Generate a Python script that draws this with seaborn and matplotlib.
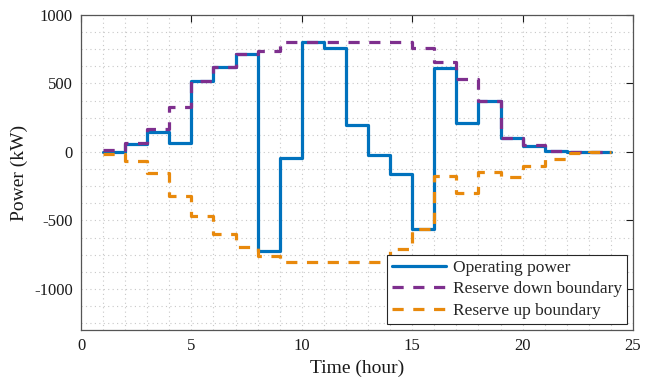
import matplotlib
matplotlib.use("Agg")
import matplotlib.pyplot as plt
from matplotlib.ticker import MultipleLocator
import seaborn as sns
import pandas as pd

# ---- data ----
hours = list(range(1, 25))
operating_power = [0, 60, 145, 65, 520, 622, 715, -722, -45, 800, 761, 200,
                   -20, -163, -561, 612, 212, 369, 103, 44, 8, 0, 0, 0]
reserve_down = [17, 65, 168, 325, 520, 622, 715, 737, 800, 800, 800, 800,
                800, 800, 761, 656, 534, 369, 103, 49, 10, 0, 0, 0]
reserve_up = [-12, -66, -153, -319, -470, -602, -692, -758, -800, -800, -800, -800,
              -800, -707, -561, -175, -300, -148, -183, -105, -49, -5, 0, 0]
series_names = ["Operating power", "Reserve down boundary", "Reserve up boundary"]
series_colors = ["#0072BD", "#7E2F8E", "#E8890C"]
x_ticks = [0, 5, 10, 15, 20, 25]
y_ticks = [-1000, -500, 0, 500, 1000]

sns.set_style("white")
plt.rcParams["font.family"] = ["Liberation Serif", "DejaVu Serif"]
plt.rcParams["axes.unicode_minus"] = False

fig = plt.figure(figsize=(6.45, 3.83), dpi=100)
ax = fig.add_axes([0.1256, 0.1384, 0.8558, 0.8224])

df = pd.DataFrame({"hour": hours, "op": operating_power,
                   "down": reserve_down, "up": reserve_up})

dash = (0, (3.5, 3.0))
sns.lineplot(data=df, x="hour", y="op", ax=ax, color=series_colors[0],
             linewidth=2.3, drawstyle="steps-post", label=series_names[0],
             zorder=3)
sns.lineplot(data=df, x="hour", y="down", ax=ax, color=series_colors[1],
             linewidth=2.3, drawstyle="steps-post", linestyle=dash,
             label=series_names[1], zorder=4)
sns.lineplot(data=df, x="hour", y="up", ax=ax, color=series_colors[2],
             linewidth=2.3, drawstyle="steps-post", linestyle=dash,
             label=series_names[2], zorder=5)

ax.set_xlim(0, 25)
ax.set_ylim(-1300, 1000)
ax.set_xticks(x_ticks)
ax.set_yticks(y_ticks)
ax.set_xticklabels([str(t) for t in x_ticks])
ax.set_yticklabels([str(t) for t in y_ticks])
ax.xaxis.set_minor_locator(MultipleLocator(1))
ax.yaxis.set_minor_locator(MultipleLocator(125))
ax.grid(which="both", linestyle=(0, (1, 3)), color="#c8c8c8", linewidth=0.8, zorder=0)
ax.set_axisbelow(True)

ax.tick_params(which="major", direction="in", length=5, width=0.8,
               top=True, right=True, labelsize=12, colors="#1a1a1a", pad=6)
ax.tick_params(which="minor", length=0, top=True, right=True)
for sp in ax.spines.values():
    sp.set_color("#555555")
    sp.set_linewidth(0.9)
    sp.set_visible(True)

ax.set_xlabel("Time (hour)", fontsize=14, color="#1a1a1a", labelpad=4)
ax.set_ylabel("Power (kW)", fontsize=14, color="#1a1a1a", labelpad=4)

leg = ax.legend(loc="lower right", fontsize=12.5, frameon=True, fancybox=False,
                edgecolor="#262626", framealpha=1, borderpad=0.3,
                labelspacing=0.3, handlelength=3.1, handletextpad=0.4,
                borderaxespad=0.35)
leg.get_frame().set_linewidth(0.8)

fig.savefig("out.png", dpi=100)
